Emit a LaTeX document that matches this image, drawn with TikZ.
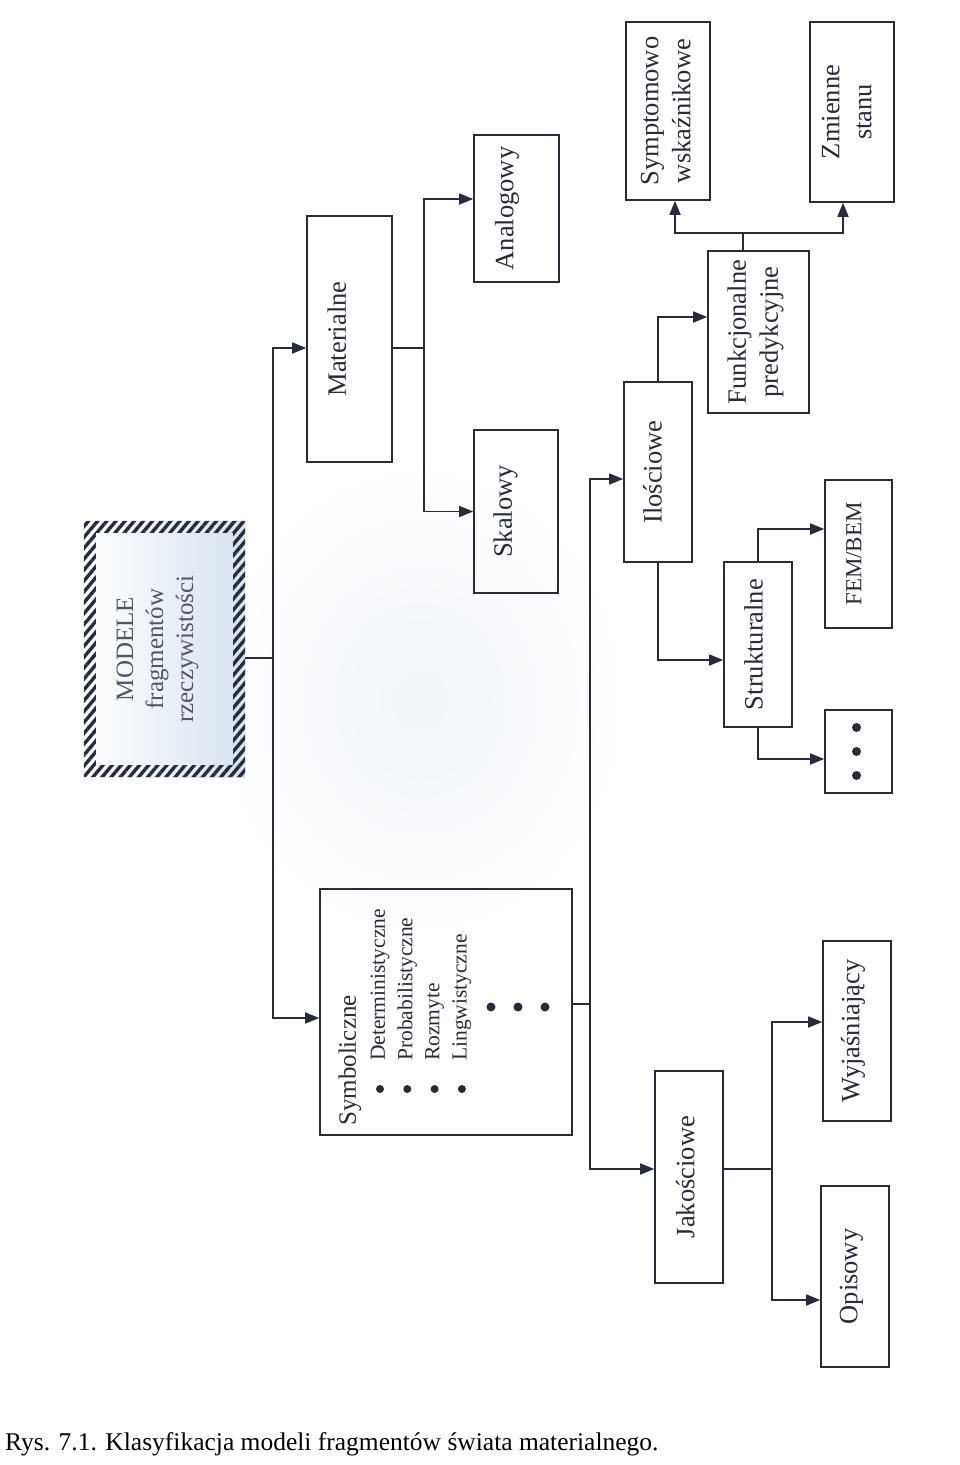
\documentclass[tikz,border=0pt]{standalone}
\usepackage{graphicx}
\usepackage{fontspec}
\setmainfont{Liberation Serif}
\usetikzlibrary{arrows.meta,patterns.meta}

\definecolor{ink}{RGB}{40,44,58}
\definecolor{haze}{RGB}{214,226,240}

% pionowy napis w ramce, #1 = przesuniecie tekstu w lewo
\newcommand{\vlab}[2][6pt]{\rotatebox{90}{\begin{tabular}{@{}c@{}}#2\end{tabular}}\hspace*{#1}}

\tikzset{
  box/.style={draw=ink, line width=1.6pt, inner sep=0pt, text=ink, font=\fontsize{26.5}{32}\selectfont},
  item/.style={rotate=90, anchor=west, inner sep=0pt, text=ink, font=\fontsize{21.5}{25}\selectfont},
  arr/.style={draw=ink, line width=1.6pt, -{Triangle[length=14pt,width=11pt]}},
  ln/.style={draw=ink, line width=1.6pt},
}

\begin{document}
\begin{tikzpicture}[x=1pt, y=-1pt]
  \useasboundingbox (0,0) rectangle (960,1465);
  \fill[white] (0,0) rectangle (960,1465);
  \shade[inner color=haze!35, outer color=white] (420,700) ellipse (210 and 240);

  % korzen
  \node[minimum width=161pt, minimum height=256pt, inner sep=0pt, left color=white, right color=haze,
        text=ink!80, font=\fontsize{25}{30}\selectfont] (mod) at (164.5,649)
        {\vlab[15pt]{MODELE\\fragmentów\\rzeczywistości}};
  \fill[pattern={Lines[angle=50, distance=7pt, line width=3.4pt]}, pattern color=ink, even odd rule]
    (mod.south west) rectangle (mod.north east)
    ([shift={(12pt,12pt)}]mod.south west) rectangle ([shift={(-12pt,-12pt)}]mod.north east);

  % modele materialne
  \node[box, minimum width=85pt, minimum height=246pt] (mat) at (349.5,339) {\vlab[20pt]{Materialne}};
  \node[box, minimum width=85pt, minimum height=147pt] (ana) at (516.5,208.5) {\vlab[19pt]{Analogowy}};
  \node[box, minimum width=84pt, minimum height=163pt] (ska) at (516,511.5) {\vlab[21pt]{Skalowy}};

  % modele symboliczne
  \node[box, minimum width=252pt, minimum height=246pt] (sym) at (446,1012) {};
  \node[item, font=\fontsize{25}{30}\selectfont] (symtit) at (350,1126) {Symboliczne};
  \foreach \t [count=\i] in {Deterministyczne,Probabilistyczne,Rozmyte,Lingwistyczne} {
    \node[item] (itm\i) at ({380+27.3*(\i-1)},1061) {\t};
    \fill[ink] ({380+27.3*(\i-1)},1089) circle (4pt);
  }
  \foreach \x in {491,518,545}
    \fill[ink] (\x,1007) circle (4.5pt);

  \node[box, minimum width=68pt, minimum height=180pt] (ilo) at (658,472) {\vlab[5.6pt]{Ilościowe}};
  \node[box, minimum width=68pt, minimum height=212pt] (jak) at (689,1177) {\vlab[2pt]{Jakościowe}};

  \node[box, minimum width=101pt, minimum height=162pt] (fun) at (758.5,332) {\vlab{Funkcjonalne\\predykcyjne}};
  \node[box, minimum width=84pt, minimum height=178pt] (sws) at (668,111) {\vlab[0pt]{Symptomowo\\wskaźnikowe}};
  \node[box, minimum width=84pt, minimum height=180pt] (zmi) at (852,112) {\vlab{Zmienne\\stanu}};

  \node[box, minimum width=68pt, minimum height=165pt] (str) at (758,644.5) {\vlab[3.6pt]{Strukturalne}};
  \node[box, minimum width=67pt, minimum height=148pt, font=\fontsize{23}{28}\selectfont] (fem) at (858.5,554) {\vlab[5.6pt]{FEM/BEM}};
  \node[box, minimum width=67pt, minimum height=83pt] (kro) at (858.5,751.5) {};
  \foreach \d in {-24,0,24}
    \fill[ink] ([xshift=-2pt, yshift=\d pt]kro.center) circle (4.5pt);

  \node[box, minimum width=68pt, minimum height=180pt] (wyj) at (857,1031) {\vlab[8pt]{Wyjaśniający}};
  \node[box, minimum width=68pt, minimum height=181pt] (opi) at (855,1276.5) {\vlab[8pt]{Opisowy}};

  % polaczenia
  \coordinate (j0) at (273,658);
  \draw[ln] ([yshift=-9pt]mod.east) -- (j0);
  \draw[arr] (j0) |- ([yshift=-9pt]mat.west);
  \draw[arr] (j0) |- ([yshift=-6pt]sym.west);

  \coordinate (j1) at (424,348);
  \draw[ln] ([yshift=-9pt]mat.east) -- (j1);
  \draw[arr] (j1) |- ([yshift=9.5pt]ana.west);
  \draw[arr] (j1) |- (ska.west);

  \coordinate (j2) at (590,1004);
  \draw[ln] ([yshift=8pt]sym.east) -- (j2);
  \draw[arr] (j2) |- ([yshift=-7pt]ilo.west);
  \draw[arr] (j2) |- ([yshift=8pt]jak.west);

  \draw[arr] (ilo.north) |- ([yshift=15pt]fun.west);
  \draw[arr] (ilo.south) |- ([yshift=-15.5pt]str.west);

  \coordinate (j3) at (743,233);
  \draw[ln] ([xshift=-15.5pt]fun.north) -- (j3);
  \draw[arr] (j3) -| ([xshift=7pt]sws.south);
  \draw[arr] (j3) -| ([xshift=-9pt]zmi.south);

  \draw[arr] (str.north) |- ([yshift=25pt]fem.west);
  \draw[arr] (str.south) |- ([yshift=-7.5pt]kro.west);

  \coordinate (j4) at (772,1169);
  \draw[ln] ([yshift=8pt]jak.east) -- (j4);
  \draw[arr] (j4) |- ([yshift=9pt]wyj.west);
  \draw[arr] (j4) |- ([yshift=-23.5pt]opi.west);

  % podpis
  \node[anchor=base west, inner sep=0pt, font=\fontsize{25.5}{30}\selectfont] (cap) at (5,1450)
    {Rys. 7.1. Klasyfikacja modeli fragmentów świata materialnego.};
\end{tikzpicture}
\end{document}
